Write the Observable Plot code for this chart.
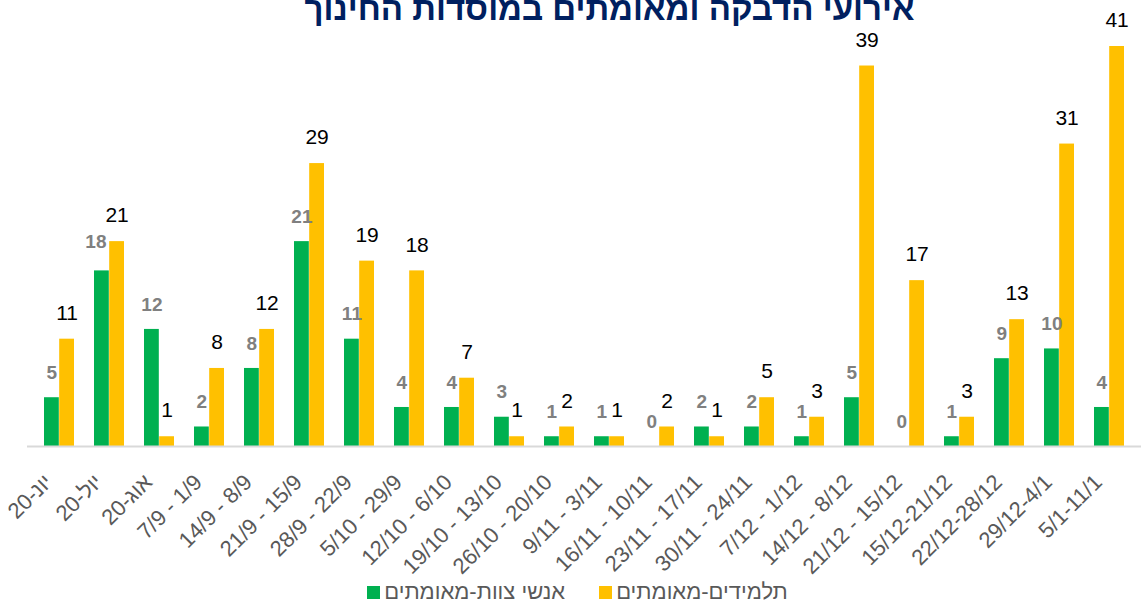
<!DOCTYPE html>
<html>
<head>
<meta charset="utf-8">
<script src="https://cdn.jsdelivr.net/npm/d3@7"></script>
<script src="https://cdn.jsdelivr.net/npm/@observablehq/plot@0.6"></script>
<style>
  html, body { margin: 0; padding: 0; background: #fff; overflow: hidden; }
  #wrap { position: relative; width: 1141px; height: 605px; font-family: "Liberation Sans", Arial, sans-serif; }
  #title { position: absolute; left: 0; width: 1141px; top: -10px; text-align: center; font-weight: bold; font-size: 33px; color: #002060; white-space: nowrap; padding-left: 78px; box-sizing: border-box;}
  #chart { position: absolute; left: 0; top: 0; }
  #legend { position: absolute; left: 0; top: 579px; width: 1141px; display: flex; justify-content: center; gap: 34px; font-size: 22px; color: #595959; padding-left: 14px; box-sizing: border-box; }
  .item { display: flex; align-items: center; gap: 4px; direction: ltr; }
  .sw { width: 13px; height: 13px; display: inline-block; }
</style>
</head>
<body>
<div id="wrap">
  <div id="chart"></div>
  <div id="title">אירועי הדבקה ומאומתים במוסדות החינוך</div>
  <div id="legend"></div>
</div>
<script>
const categories = [
  "20-יונ", "20-יול", "20-אוג",
  "7/9 - 1/9", "14/9 - 8/9", "21/9 - 15/9", "28/9 - 22/9", "5/10 - 29/9",
  "12/10 - 6/10", "19/10 - 13/10", "26/10 - 20/10", "9/11 - 3/11", "16/11 - 10/11",
  "23/11 - 17/11", "30/11 - 24/11", "7/12 - 1/12", "14/12 - 8/12", "21/12 - 15/12",
  "15/12-21/12", "22/12-28/12", "29/12-4/1", "5/1-11/1"
];
const staff = [5, 18, 12, 2, 8, 21, 11, 4, 4, 3, 1, 1, 0, 2, 2, 1, 5, 0, 1, 9, 10, 4];
const students = [11, 21, 1, 8, 12, 29, 19, 18, 7, 1, 2, 1, 2, 1, 5, 3, 39, 17, 3, 13, 31, 41];
const seriesNames = ["אנשי צוות-מאומתים", "תלמידים-מאומתים"];
const seriesColors = ["#00b050", "#ffc000"];

const rows = categories.map((c, i) => ({category: c, staff: staff[i], students: students[i], i}));

const W = 1141, H = 575, mL = 27, mR = 0;
const pIn = 0.4, pOut = 0.2;
const step = (W - mL - mR) / (categories.length - pIn + 2 * pOut);
const half = step * (1 - pIn) / 2;

const chart = Plot.plot({
  width: W, height: H,
  marginLeft: mL, marginRight: mR, marginTop: 46, marginBottom: H - 446,
  style: {fontFamily: "'Liberation Sans', Arial, sans-serif", background: "transparent", overflow: "visible"},
  x: {domain: categories, paddingInner: pIn, paddingOuter: pOut, label: null},
  y: {domain: [0, 41], axis: null},
  marks: [
    Plot.barY(rows, {x: "category", y: "staff", fill: seriesColors[0], insetRight: half}),
    Plot.barY(rows, {x: "category", y: "students", fill: seriesColors[1], insetLeft: half}),
    Plot.ruleY([0], {stroke: "#d9d9d9", strokeWidth: 2}),
    Plot.axisX({tickSize: 0, tickRotate: -45, fontSize: 22, fill: "#595959", tickPadding: 8, dx: -11, dy: 24}),
    Plot.text(rows, {filter: d => d.i !== 1, x: "category", y: "staff", text: d => String(d.staff), dx: -half / 2, dy: -25, fill: "#808080", fontWeight: "bold", fontSize: 19}),
    Plot.text(rows, {filter: d => d.i === 1, x: "category", y: "staff", text: d => String(d.staff), dx: -half / 2 - 6, dy: -29, fill: "#808080", fontWeight: "bold", fontSize: 19}),
    Plot.text(rows, {x: "category", y: "students", text: d => String(d.students), dx: half / 2, dy: -26, fill: "#000", fontSize: 21})
  ]
});
document.getElementById("chart").appendChild(chart);

const legend = document.getElementById("legend");
seriesNames.forEach((n, k) => {
  const it = document.createElement("div");
  it.className = "item";
  it.innerHTML = `<span class="sw" style="background:${seriesColors[k]}"></span><span dir="rtl">${n}</span>`;
  legend.appendChild(it);
});
</script>
</body>
</html>
